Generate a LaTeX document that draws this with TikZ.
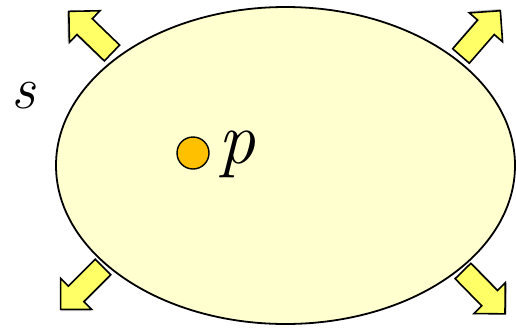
\documentclass[tikz,border=0pt]{standalone}
\usepackage{fontspec}
\usepackage{tikz}
\usetikzlibrary{shapes.geometric}
\definecolor{ellfill}{HTML}{FFFFD0}
\definecolor{arrfill}{HTML}{FFFF66}
\definecolor{ptfill}{HTML}{FFC000}
\tikzset{
  blockarrow/.pic={
    \fill[black!25] (1.2,-1.2) ++(0,-11) -- ++(38,0) -- ++(0,-11) -- ++(22,22) -- ++(-22,22) -- ++(0,-11) -- ++(-38,0) -- cycle;
    \draw[line width=1.6pt, fill=arrfill, line join=miter]
      (0,-11) -- (38,-11) -- (38,-22) -- (60,0) -- (38,22) -- (38,11) -- (0,11) -- cycle;
  },
  lbl/.style={inner sep=0pt, anchor=base}
}
\begin{document}
\begin{tikzpicture}[x=1pt,y=-1pt]
\useasboundingbox (0,0) rectangle (516,327);
\node[ellipse, draw, line width=1.8pt, fill=ellfill, minimum width=459pt, minimum height=317pt, inner sep=0] (set) at (285.5,165.5) {};
\coordinate (tl) at (112,53);
\coordinate (tr) at (461,56);
\coordinate (bl) at (103,267);
\coordinate (br) at (463,271);
\pic[shift={(tl)}, rotate=136] {blockarrow};
\pic[shift={(tr)}, rotate=49] {blockarrow};
\pic[shift={(bl)}, rotate=225] {blockarrow};
\pic[shift={(br)}, rotate=-45.6] {blockarrow};
\node[circle, draw, line width=1.4pt, fill=ptfill, minimum size=32pt, inner sep=0] (pt) at (193,153) {};
\node[lbl, font=\fontsize{74}{80}\selectfont\itshape] (plabel) at (237,163) {p};
\node[lbl, font=\fontsize{60}{66}\selectfont\itshape] (slabel) at (24,108) {s};
\end{tikzpicture}
\end{document}
